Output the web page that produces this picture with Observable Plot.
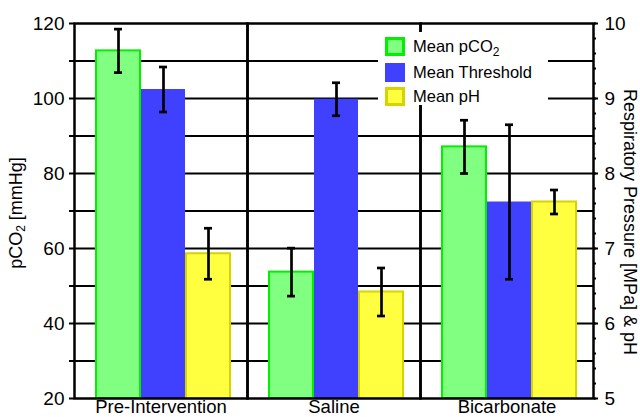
<!DOCTYPE html>
<html><head><meta charset="utf-8">
<script src="https://cdn.jsdelivr.net/npm/d3@7"></script>
<script src="https://cdn.jsdelivr.net/npm/@observablehq/plot@0.6"></script>
<style>
body{margin:0;background:#fff;font-family:"Liberation Sans",Arial,sans-serif;}
#wrap{position:relative;width:640px;height:417px;overflow:hidden;background:#fff;}
#wrap svg{position:absolute;left:0;top:0;}
.ttl{position:absolute;font-size:18px;color:#000;white-space:nowrap;}
.ttl sub{font-size:12px;vertical-align:-3px;line-height:0;}
#legend{position:absolute;left:378px;top:32px;width:170px;height:73px;background:#fff;font-size:16.5px;color:#000;}
.row{position:absolute;left:7px;height:20px;display:flex;align-items:center;white-space:nowrap;}
.sw{width:20px;height:19px;box-sizing:border-box;margin-right:8px;}
.row sub{font-size:12px;vertical-align:-4px;line-height:0;}
</style></head><body><div id="wrap"></div>
<script>
// ---- data ----
const groups = ["Pre-Intervention", "Saline", "Bicarbonate"];
const seriesNames = ["Mean pCO2", "Mean Threshold", "Mean pH"];
const pco2Mean = [112.7, 53.7, 87.1];
const pco2Err = [5.8, 6.4, 7.1];
const thresholdMean = [9.12, 8.99, 7.62];
const thresholdErr = [0.30, 0.22, 1.03];
const phMean = [6.93, 6.42, 7.62];
const phErr = [0.34, 0.32, 0.16];
const leftTicks = [20, 40, 60, 80, 100, 120];
const leftMinorTicks = [30, 50, 70, 90, 110];
const gridTicks = [30, 40, 50, 60, 70, 80, 90, 100, 110];
const rightTicks = [5, 6, 7, 8, 9, 10];
const rightMinorStep = 0.2;
const leftDomain = [20, 120];
const rightDomain = [5, 10];
const fills = ["#80ff80", "#4040ff", "#ffff40"];
const strokes = ["#00f000", "none", "#d6d400"];

// map right-axis values onto the left-axis scale
const k = (leftDomain[1] - leftDomain[0]) / (rightDomain[1] - rightDomain[0]);
const toLeft = v => leftDomain[0] + (v - rightDomain[0]) * k;
const fromLeft = v => rightDomain[0] + (v - leftDomain[0]) / k;

const rows = [];
groups.forEach((g, i) => {
  rows.push({group: g, series: seriesNames[0], s: 0, value: pco2Mean[i], lo: pco2Mean[i] - pco2Err[i], hi: pco2Mean[i] + pco2Err[i]});
  rows.push({group: g, series: seriesNames[1], s: 1, value: toLeft(thresholdMean[i]), lo: toLeft(thresholdMean[i] - thresholdErr[i]), hi: toLeft(thresholdMean[i] + thresholdErr[i])});
  rows.push({group: g, series: seriesNames[2], s: 2, value: toLeft(phMean[i]), lo: toLeft(phMean[i] - phErr[i]), hi: toLeft(phMean[i] + phErr[i])});
});
const rightMinor = d3.range(rightDomain[0], rightDomain[1] + 1e-9, rightMinorStep).map(toLeft);

const bars = [0, 1, 2].map(s => Plot.barY(rows.filter(d => d.s === s), {
  fx: "group", x: "series", y1: leftDomain[0], y2: "value",
  fill: fills[s], stroke: strokes[s], strokeWidth: 2
}));

const chart = Plot.plot({
  width: 640, height: 417,
  marginLeft: 74, marginRight: 47, marginTop: 23, marginBottom: 19,
  facet: {marginTop: 0, marginRight: 0, marginBottom: 0, marginLeft: 0},
  style: {fontFamily: "'Liberation Sans', Arial, sans-serif", fontSize: "19px", color: "#000", background: "transparent", overflow: "visible"},
  fx: {domain: groups, padding: 0, label: null},
  x: {domain: seriesNames, paddingInner: 0.033, paddingOuter: 0.4, align: 0.545, axis: null},
  y: {domain: leftDomain},
  marks: [
    Plot.gridY(gridTicks, {stroke: "#000", strokeOpacity: 1, strokeWidth: 2}),
    ...bars,
    Plot.frame({stroke: "#000", strokeWidth: 2.5}),
    Plot.ruleX(rows, {fx: "group", x: "series", y1: "lo", y2: "hi", stroke: "#000", strokeWidth: 2.7}),
    Plot.tickY(rows, {fx: "group", x: "series", y: "lo", stroke: "#000", strokeWidth: 2.7, insetLeft: 18, insetRight: 18}),
    Plot.tickY(rows, {fx: "group", x: "series", y: "hi", stroke: "#000", strokeWidth: 2.7, insetLeft: 18, insetRight: 18}),
    Plot.axisY(leftTicks, {anchor: "left", tickSize: 5, tickPadding: 5, strokeWidth: 2, fontSize: 19, label: null}),
    Plot.axisY(leftMinorTicks, {anchor: "left", tickSize: 5, strokeWidth: 2, tickFormat: () => "", label: null}),
    Plot.axisY(rightTicks.map(toLeft), {anchor: "right", tickSize: 4, tickPadding: 7, strokeWidth: 2, fontSize: 19, tickFormat: d => String(Math.round(fromLeft(d))), label: null}),
    Plot.axisY(rightMinor, {anchor: "right", tickSize: 2, strokeWidth: 2, tickFormat: () => "", label: null}),
    Plot.axisFx({anchor: "bottom", tickSize: 0, tickPadding: 1, fontSize: 18.5, label: null})
  ]
});

const wrap = document.getElementById("wrap");
wrap.appendChild(chart);

// axis titles
const lt = document.createElement("div");
lt.className = "ttl";
lt.innerHTML = "pCO<sub>2</sub> [mmHg]";
lt.style.left = "16px"; lt.style.top = "213px";
lt.style.transform = "translate(-50%,-50%) rotate(-90deg)";
wrap.appendChild(lt);

const rt = document.createElement("div");
rt.className = "ttl";
rt.textContent = "Respiratory Pressure [MPa] & pH";
rt.style.left = "629px"; rt.style.top = "222px";
rt.style.transform = "translate(-50%,-50%) rotate(90deg)";
wrap.appendChild(rt);

// legend (inside the plot area)
const legend = document.createElement("div");
legend.id = "legend";
const labelsHtml = ["Mean pCO<sub>2</sub>", "Mean Threshold", "Mean pH"];
const rowTops = [4, 30, 54];
seriesNames.forEach((name, i) => {
  const r = document.createElement("div");
  r.className = "row";
  r.style.top = rowTops[i] + "px";
  const sw = document.createElement("div");
  sw.className = "sw";
  sw.style.background = fills[i];
  sw.style.border = strokes[i] === "none" ? "none" : "3px solid " + strokes[i];
  const t = document.createElement("span");
  t.innerHTML = labelsHtml[i];
  r.appendChild(sw); r.appendChild(t);
  legend.appendChild(r);
});
wrap.appendChild(legend);
</script>
</body></html>
